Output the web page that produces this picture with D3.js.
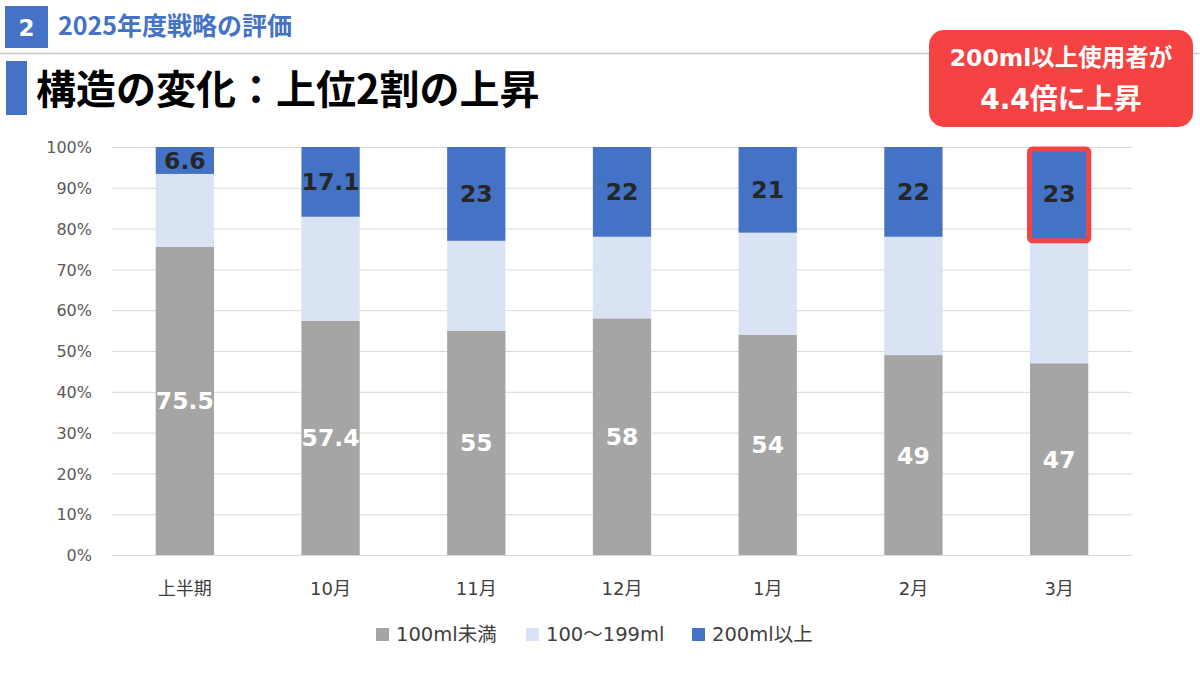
<!DOCTYPE html>
<html>
<head>
<meta charset="utf-8">
<script src="https://cdn.jsdelivr.net/npm/d3@7"></script>
<style>
    body { margin: 0; background: #fff; }
    svg { display: block; font-family: "DejaVu Sans", "Noto Sans CJK JP", sans-serif; }
    .jp { font-family: "Noto Sans CJK JP", "Noto Sans", sans-serif; }
    .tick-label { font-family: "DejaVu Sans", sans-serif; font-size: 16px; fill: #595959; }
    .cat-label { font-size: 18px; fill: #404040; }
    .legend-label { font-size: 19.5px; fill: #404040; }
</style>
</head>
<body>
<svg id="chart"></svg>
<script>
// data

const categories = ['上半期', '10月', '11月', '12月', '1月', '2月', '3月'];
const seriesNames = ['100ml未満', '100〜199ml', '200ml以上'];
const under100 = [75.5, 57.4, 55, 58, 54, 49, 47];
const mid100to199 = [17.9, 25.5, 22, 20, 25, 29, 30];
const over200 = [6.6, 17.1, 23, 22, 21, 22, 23];
const yTicks = [0, 10, 20, 30, 40, 50, 60, 70, 80, 90, 100];
const highlightCategory = '3月';

// sizes

let width = 1200;
let height = 675;
let plotLeft = 112;
let plotRight = 1132;
let plotTop = 147;
let plotBottom = 555;

let colors = ['#A5A5A5', '#DAE3F3', '#4472C4'];
let blue = '#4472C4';
let red = '#F54343';

let svg = d3.select('#chart')
    .attr('width', width)
    .attr('height', height);

// header

svg.append('rect')
    .attr('x', 5).attr('y', 6)
    .attr('width', 43).attr('height', 42)
    .style('fill', blue);
svg.append('text')
    .attr('x', 26.5).attr('y', 36)
    .attr('text-anchor', 'middle')
    .style('font-size', '23px').style('font-weight', 700).style('fill', '#fff')
    .text('2');
svg.append('text')
    .attr('class', 'jp')
    .attr('x', 58).attr('y', 35)
    .style('font-size', '25px').style('font-weight', 700).style('fill', blue)
    .text('2025年度戦略の評価');
svg.append('line')
    .attr('x1', 0).attr('x2', width)
    .attr('y1', 53.5).attr('y2', 53.5)
    .style('stroke', '#c9c9c9').style('stroke-width', 1.5);

svg.append('rect')
    .attr('x', 6).attr('y', 61)
    .attr('width', 21).attr('height', 54)
    .style('fill', blue);
svg.append('text')
    .attr('class', 'jp')
    .attr('x', 36).attr('y', 104)
    .style('font-size', '40px').style('font-weight', 700).style('fill', '#000')
    .text('構造の変化：上位2割の上昇');

// scales

let xScale = d3.scaleBand()
    .domain(categories)
    .range([plotLeft, plotRight])
    .paddingInner(0.6)
    .paddingOuter(0.3);

let yScale = d3.scaleLinear()
    .domain([0, 100])
    .range([plotBottom, plotTop]);

// grid + y axis

let axis = svg.append('g');
axis.append('g')
    .attr('transform', `translate(${plotLeft}, 0)`)
    .call(d3.axisRight(yScale)
        .tickValues(yTicks)
        .tickSize(plotRight - plotLeft)
        .tickFormat(d => d + '%'))
    .attr('font-family', null)
    .attr('font-size', null)
    .call(g => g.select('.domain').remove())
    .call(g => g.selectAll('.tick line')
        .style('stroke', '#d9d9d9').style('stroke-width', 1))
    .call(g => g.selectAll('.tick text')
        .attr('class', 'tick-label')
        .attr('x', -20)
        .attr('dy', '0.35em')
        .style('text-anchor', 'end'));

// x labels
axis.append('g')
    .selectAll('text')
    .data(categories)
    .enter()
    .append('text')
    .attr('class', 'cat-label')
    .attr('x', d => xScale(d) + xScale.bandwidth() / 2)
    .attr('y', 595)
    .attr('text-anchor', 'middle')
    .text(d => d);

// stacked bars

let rows = categories.map((c, i) => ({
    category: c,
    s0: under100[i],
    s1: mid100to199[i],
    s2: over200[i]
}));

let stack = d3.stack().keys(['s0', 's1', 's2'])(rows);

let bars = svg.append('g');
stack.forEach((layer, li) => {
    bars.append('g')
        .selectAll('rect')
        .data(layer)
        .enter()
        .append('rect')
        .attr('x', d => xScale(d.data.category))
        .attr('y', d => yScale(Math.min(d[1], 100)))
        .attr('width', xScale.bandwidth())
        .attr('height', d => yScale(d[0]) - yScale(Math.min(d[1], 100)))
        .style('fill', colors[li]);
});

// data labels (bottom and top segments only)
let labelLayers = [
    { layer: stack[0], color: '#ffffff' },
    { layer: stack[2], color: '#262626' }
];
let fmt = v => Math.abs(v - Math.round(v)) < 1e-9 ? d3.format('d')(v) : d3.format('.1f')(v);
labelLayers.forEach(l => {
    bars.append('g')
        .selectAll('text')
        .data(l.layer)
        .enter()
        .append('text')
        .attr('x', d => xScale(d.data.category) + xScale.bandwidth() / 2)
        .attr('y', d => yScale((d[0] + Math.min(d[1], 100)) / 2))
        .attr('dy', '0.36em')
        .attr('text-anchor', 'middle')
        .style('font-size', '23.5px')
        .style('font-weight', 700)
        .style('fill', l.color)
        .text(d => fmt(d[1] - d[0]));
});

// highlight

let hi = stack[2][categories.indexOf(highlightCategory)];
svg.append('rect')
    .attr('x', xScale(highlightCategory) - 0.5)
    .attr('y', yScale(100) + 2)
    .attr('width', xScale.bandwidth() + 1)
    .attr('height', yScale(hi[0]) - yScale(100) - 2)
    .attr('rx', 3)
    .style('fill', 'none')
    .style('stroke', red)
    .style('stroke-width', 5);

let callout = svg.append('g');
callout.append('rect')
    .attr('x', 929).attr('y', 30)
    .attr('width', 264).attr('height', 97)
    .attr('rx', 15)
    .style('fill', red);
callout.append('text')
    .attr('x', 1061).attr('y', 66)
    .attr('text-anchor', 'middle')
    .style('font-size', '23.5px').style('font-weight', 700).style('fill', '#fff')
    .text('200ml以上使用者が');
callout.append('text')
    .attr('x', 1061).attr('y', 109)
    .attr('text-anchor', 'middle')
    .style('font-size', '28px').style('font-weight', 700).style('fill', '#fff')
    .text('4.4倍に上昇');

// legend

let legendX = [376, 526, 692];
let legend = svg.append('g');
seriesNames.forEach((name, i) => {
    legend.append('rect')
        .attr('x', legendX[i]).attr('y', 628)
        .attr('width', 13).attr('height', 13)
        .style('fill', colors[i]);
    legend.append('text')
        .attr('class', 'legend-label')
        .attr('x', legendX[i] + 20).attr('y', 641)
        .text(name);
});
</script>
</body>
</html>
